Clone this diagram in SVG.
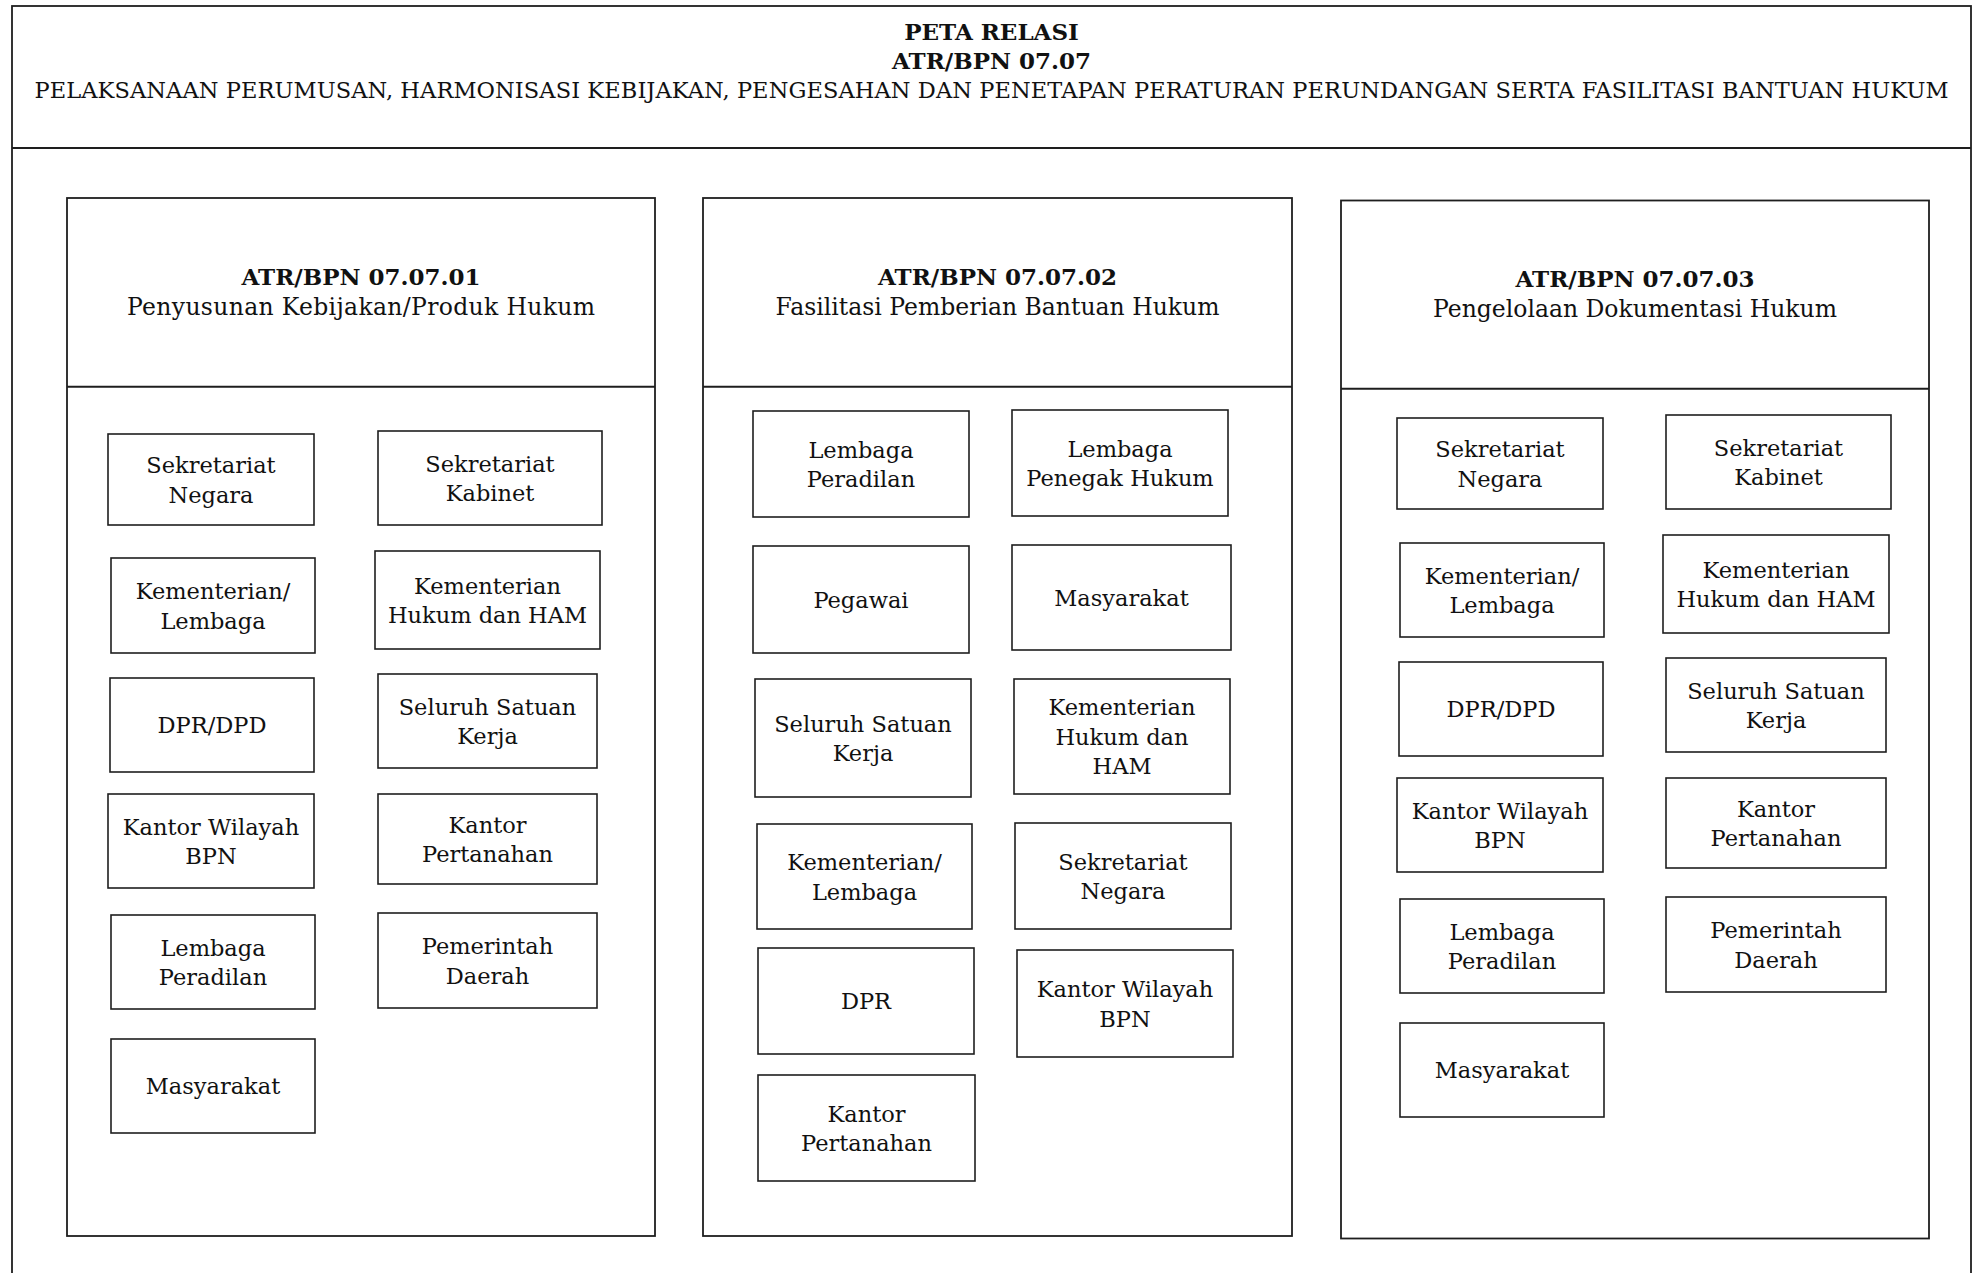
<svg xmlns="http://www.w3.org/2000/svg" width="1979" height="1273" viewBox="0 0 1979 1273">
  <style>
    .frame { fill: #ffffff; stroke: #1e1e1e; stroke-width: 1.8; }
    .box { fill: #ffffff; stroke: #1e1e1e; stroke-width: 1.6; }
    .rule { stroke: #1e1e1e; stroke-width: 2; }
    text { font-family: "DejaVu Serif", "Liberation Serif", serif; fill: #111111; text-anchor: middle; }
    .t { font-size: 22.5px; }
    .b { font-size: 23px; font-weight: bold; }
    .h { font-size: 23.5px; }
  </style>
  <rect width="1979" height="1273" fill="#ffffff"/>

  <!-- outer frame and title block -->
  <g id="title">
    <rect class="frame" x="12" y="6" width="1959" height="1300"/>
    <line class="rule" x1="12" y1="148" x2="1971" y2="148"/>
    <text class="b" x="991.5" y="39.5">PETA RELASI</text>
    <text class="b" x="991.5" y="68.5">ATR/BPN 07.07</text>
    <text class="t" x="991.5" y="98" textLength="1914" lengthAdjust="spacing">PELAKSANAAN PERUMUSAN, HARMONISASI KEBIJAKAN, PENGESAHAN DAN PENETAPAN PERATURAN PERUNDANGAN SERTA FASILITASI BANTUAN HUKUM</text>
  </g>

  <!-- column 07.07.01 -->
  <g id="col-070701">
    <rect class="frame" x="67" y="198" width="588" height="1038"/>
    <line class="rule" x1="67" y1="386.7" x2="655" y2="386.7"/>
    <text class="b" x="361" y="285">ATR/BPN 07.07.01</text>
    <text class="h" x="361" y="315" textLength="468" lengthAdjust="spacing">Penyusunan Kebijakan/Produk Hukum</text>
  </g>
  <g id="c1-sekneg"><rect class="box" x="108" y="434" width="206" height="91"/><text class="t" x="211" y="473">Sekretariat</text><text class="t" x="211" y="502.5">Negara</text></g>
  <g id="c1-setkab"><rect class="box" x="378" y="431" width="224" height="94"/><text class="t" x="490" y="471.5">Sekretariat</text><text class="t" x="490" y="501">Kabinet</text></g>
  <g id="c1-kl"><rect class="box" x="111" y="558" width="204" height="95"/><text class="t" x="213" y="599">Kementerian/</text><text class="t" x="213" y="628.5">Lembaga</text></g>
  <g id="c1-kemenkumham"><rect class="box" x="375" y="551" width="225" height="98"/><text class="t" x="487.5" y="593.5">Kementerian</text><text class="t" x="487.5" y="623">Hukum dan HAM</text></g>
  <g id="c1-dprdpd"><rect class="box" x="110" y="678" width="204" height="94"/><text class="t" x="212" y="733.2">DPR/DPD</text></g>
  <g id="c1-satker"><rect class="box" x="378" y="674" width="219" height="94"/><text class="t" x="487.5" y="714.5">Seluruh Satuan</text><text class="t" x="487.5" y="744">Kerja</text></g>
  <g id="c1-kanwil"><rect class="box" x="108" y="794" width="206" height="94"/><text class="t" x="211" y="834.5">Kantor Wilayah</text><text class="t" x="211" y="864">BPN</text></g>
  <g id="c1-kantah"><rect class="box" x="378" y="794" width="219" height="90"/><text class="t" x="487.5" y="832.5">Kantor</text><text class="t" x="487.5" y="862">Pertanahan</text></g>
  <g id="c1-peradilan"><rect class="box" x="111" y="915" width="204" height="94"/><text class="t" x="213" y="955.5">Lembaga</text><text class="t" x="213" y="985">Peradilan</text></g>
  <g id="c1-pemda"><rect class="box" x="378" y="913" width="219" height="95"/><text class="t" x="487.5" y="954">Pemerintah</text><text class="t" x="487.5" y="983.5">Daerah</text></g>
  <g id="c1-masyarakat"><rect class="box" x="111" y="1039" width="204" height="94"/><text class="t" x="213" y="1094.2">Masyarakat</text></g>

  <!-- column 07.07.02 -->
  <g id="col-070702">
    <rect class="frame" x="703" y="198" width="589" height="1038"/>
    <line class="rule" x1="703" y1="386.7" x2="1292" y2="386.7"/>
    <text class="b" x="997.5" y="285">ATR/BPN 07.07.02</text>
    <text class="h" x="997.5" y="315">Fasilitasi Pemberian Bantuan Hukum</text>
  </g>
  <g id="c2-peradilan"><rect class="box" x="753" y="411" width="216" height="106"/><text class="t" x="861" y="457.5">Lembaga</text><text class="t" x="861" y="487">Peradilan</text></g>
  <g id="c2-penegak"><rect class="box" x="1012" y="410" width="216" height="106"/><text class="t" x="1120" y="456.5">Lembaga</text><text class="t" x="1120" y="486">Penegak Hukum</text></g>
  <g id="c2-pegawai"><rect class="box" x="753" y="546" width="216" height="107"/><text class="t" x="861" y="607.7">Pegawai</text></g>
  <g id="c2-masyarakat"><rect class="box" x="1012" y="545" width="219" height="105"/><text class="t" x="1121.5" y="605.7">Masyarakat</text></g>
  <g id="c2-satker"><rect class="box" x="755" y="679" width="216" height="118"/><text class="t" x="863" y="731.5">Seluruh Satuan</text><text class="t" x="863" y="761">Kerja</text></g>
  <g id="c2-kemenkumham"><rect class="box" x="1014" y="679" width="216" height="115"/><text class="t" x="1122" y="715.2">Kementerian</text><text class="t" x="1122" y="744.7">Hukum dan</text><text class="t" x="1122" y="774.2">HAM</text></g>
  <g id="c2-kl"><rect class="box" x="757" y="824" width="215" height="105"/><text class="t" x="864.5" y="870">Kementerian/</text><text class="t" x="864.5" y="899.5">Lembaga</text></g>
  <g id="c2-sekneg"><rect class="box" x="1015" y="823" width="216" height="106"/><text class="t" x="1123" y="869.5">Sekretariat</text><text class="t" x="1123" y="899">Negara</text></g>
  <g id="c2-dpr"><rect class="box" x="758" y="948" width="216" height="106"/><text class="t" x="866" y="1009.2">DPR</text></g>
  <g id="c2-kanwil"><rect class="box" x="1017" y="950" width="216" height="107"/><text class="t" x="1125" y="997">Kantor Wilayah</text><text class="t" x="1125" y="1026.5">BPN</text></g>
  <g id="c2-kantah"><rect class="box" x="758" y="1075" width="217" height="106"/><text class="t" x="866.5" y="1121.5">Kantor</text><text class="t" x="866.5" y="1151">Pertanahan</text></g>

  <!-- column 07.07.03 -->
  <g id="col-070703">
    <rect class="frame" x="1341" y="200.5" width="588" height="1038"/>
    <line class="rule" x1="1341" y1="388.7" x2="1929" y2="388.7"/>
    <text class="b" x="1635" y="287">ATR/BPN 07.07.03</text>
    <text class="h" x="1635" y="317">Pengelolaan Dokumentasi Hukum</text>
  </g>
  <g id="c3-sekneg"><rect class="box" x="1397" y="418" width="206" height="91"/><text class="t" x="1500" y="457">Sekretariat</text><text class="t" x="1500" y="486.5">Negara</text></g>
  <g id="c3-setkab"><rect class="box" x="1666" y="415" width="225" height="94"/><text class="t" x="1778.5" y="455.5">Sekretariat</text><text class="t" x="1778.5" y="485">Kabinet</text></g>
  <g id="c3-kl"><rect class="box" x="1400" y="543" width="204" height="94"/><text class="t" x="1502" y="583.5">Kementerian/</text><text class="t" x="1502" y="613">Lembaga</text></g>
  <g id="c3-kemenkumham"><rect class="box" x="1663" y="535" width="226" height="98"/><text class="t" x="1776" y="577.5">Kementerian</text><text class="t" x="1776" y="607">Hukum dan HAM</text></g>
  <g id="c3-dprdpd"><rect class="box" x="1399" y="662" width="204" height="94"/><text class="t" x="1501" y="717.2">DPR/DPD</text></g>
  <g id="c3-satker"><rect class="box" x="1666" y="658" width="220" height="94"/><text class="t" x="1776" y="698.5">Seluruh Satuan</text><text class="t" x="1776" y="728">Kerja</text></g>
  <g id="c3-kanwil"><rect class="box" x="1397" y="778" width="206" height="94"/><text class="t" x="1500" y="818.5">Kantor Wilayah</text><text class="t" x="1500" y="848">BPN</text></g>
  <g id="c3-kantah"><rect class="box" x="1666" y="778" width="220" height="90"/><text class="t" x="1776" y="816.5">Kantor</text><text class="t" x="1776" y="846">Pertanahan</text></g>
  <g id="c3-peradilan"><rect class="box" x="1400" y="899" width="204" height="94"/><text class="t" x="1502" y="939.5">Lembaga</text><text class="t" x="1502" y="969">Peradilan</text></g>
  <g id="c3-pemda"><rect class="box" x="1666" y="897" width="220" height="95"/><text class="t" x="1776" y="938">Pemerintah</text><text class="t" x="1776" y="967.5">Daerah</text></g>
  <g id="c3-masyarakat"><rect class="box" x="1400" y="1023" width="204" height="94"/><text class="t" x="1502" y="1078.2">Masyarakat</text></g>

  <!-- this map lists related units only; no links between boxes -->
  <g id="connectors"/>
</svg>
